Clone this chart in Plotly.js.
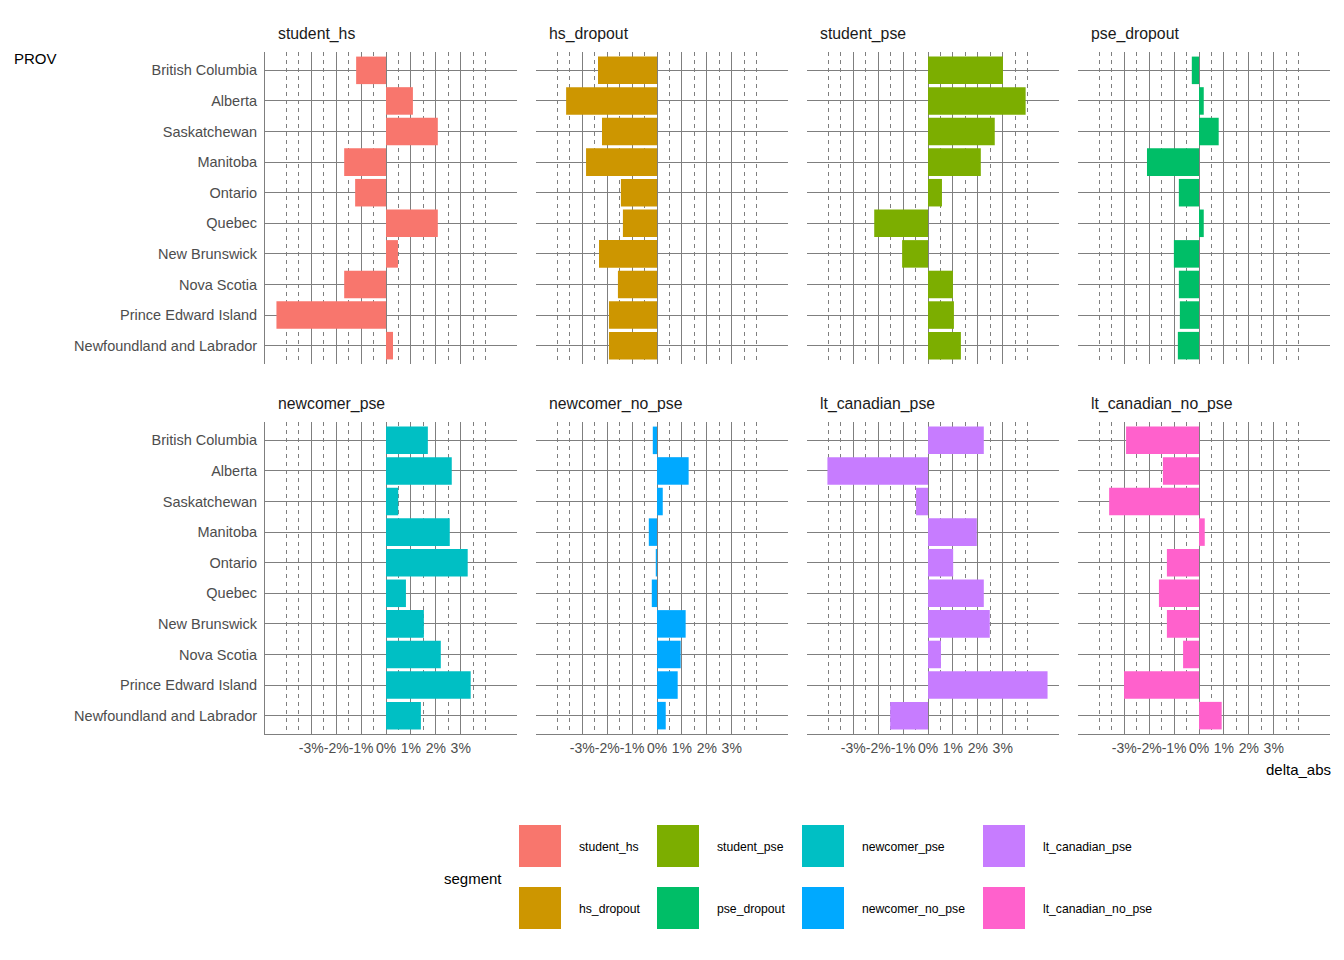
<!DOCTYPE html>
<html>
<head>
<meta charset="utf-8">
<script src="https://cdn.plot.ly/plotly-3.0.1.min.js"></script>
<style>html,body{margin:0;padding:0;background:#fff;}#chart{width:1344px;height:960px;}</style>
</head>
<body>
<div id="chart"></div>
<script>
// ---- data ----
const provinces = ["British Columbia","Alberta","Saskatchewan","Manitoba","Ontario","Quebec","New Brunswick","Nova Scotia","Prince Edward Island","Newfoundland and Labrador"];
const segments = ["student_hs","hs_dropout","student_pse","pse_dropout","newcomer_pse","newcomer_no_pse","lt_canadian_pse","lt_canadian_no_pse"];
const student_hs        = [-1.20, 1.08, 2.08,-1.68,-1.24, 2.08, 0.48,-1.68,-4.40, 0.28];
const hs_dropout        = [-2.37,-3.65,-2.21,-2.85,-1.45,-1.37,-2.33,-1.57,-1.93,-1.93];
const student_pse       = [ 3.01, 3.92, 2.68, 2.12, 0.56,-2.16,-1.04, 1.00, 1.04, 1.32];
const pse_dropout       = [-0.29, 0.19, 0.79,-2.09,-0.81, 0.19,-1.01,-0.81,-0.77,-0.85];
const newcomer_pse      = [ 1.68, 2.64, 0.49, 2.56, 3.28, 0.80, 1.52, 2.20, 3.40, 1.40];
const newcomer_no_pse   = [-0.17, 1.27, 0.23,-0.33,-0.05,-0.21, 1.15, 0.95, 0.83, 0.35];
const lt_canadian_pse   = [ 2.24,-4.04,-0.48, 1.96, 1.01, 2.24, 2.48, 0.52, 4.80,-1.52];
const lt_canadian_no_pse= [-2.93,-1.45,-3.61, 0.23,-1.29,-1.61,-1.29,-0.64,-3.01, 0.91];
const tickVals = [-3,-2,-1,0,1,2,3];
const tickText = ["-3%","-2%","-1%","0%","1%","2%","3%"];
const minorVals = [-4,-3.5,-2.5,-1.5,-0.5,0.5,1.5,2.5,3.5,4];
const colors = ["#F8766D","#CD9600","#7CAE00","#00BE67","#00BFC4","#00A9FF","#C77CFF","#FF61CC"];

const seriesValues = [student_hs,hs_dropout,student_pse,pse_dropout,newcomer_pse,newcomer_no_pse,lt_canadian_pse,lt_canadian_no_pse];

// ---- layout geometry (pixels) ----
const W = 1344, H = 960;
const colX = [[265,517],[536,788],[807,1059],[1078,1330]];
const rowY = [[52,364],[422,734]];
const GRID = "#7f7f7f";
const FONT = "Liberation Sans, Arial, sans-serif";

const data = [];
const layout = {
  width: W, height: H,
  margin: {l:0,r:0,t:0,b:0},
  paper_bgcolor: "#fff", plot_bgcolor: "#fff",
  showlegend: false,
  font: {family: FONT, color: "#000"},
  annotations: [], shapes: []
};

segments.forEach((seg, i) => {
  const r = Math.floor(i/4), c = i % 4;
  const n = i + 1;
  const xa = n === 1 ? "x" : "x" + n;
  const ya = n === 1 ? "y" : "y" + n;
  data.push({
    type: "bar", orientation: "h",
    x: seriesValues[i], y: provinces,
    xaxis: xa, yaxis: ya,
    width: 0.9,
    marker: {color: colors[i], line: {width: 0}},
    name: seg, hoverinfo: "x+y"
  });
  const xd = [colX[c][0]/W, colX[c][1]/W];
  const yd = [1 - rowY[r][1]/H, 1 - rowY[r][0]/H];
  layout["xaxis" + (n===1?"":n)] = {
    domain: xd, anchor: ya,
    range: [-4.86, 5.26],
    tickmode: "array", tickvals: tickVals, ticktext: tickText,
    showticklabels: r === 1,
    tickangle: 0,
    ticks: "", ticklabelstandoff: 1,
    tickfont: {size: 14, color: "#4d4d4d", family: FONT},
    showgrid: true, gridcolor: GRID, gridwidth: 1,
    zeroline: false,
    showline: r === 1, linecolor: GRID, linewidth: 1,
    minor: {tickmode: "array", tickvals: minorVals, showgrid: true, gridcolor: GRID, gridwidth: 1, griddash: "4px,4px", ticks: ""},
    fixedrange: true
  };
  layout["yaxis" + (n===1?"":n)] = {
    domain: yd, anchor: xa,
    type: "category",
    categoryorder: "array", categoryarray: provinces,
    range: [9.6, -0.6],
    showticklabels: c === 0,
    ticks: "", ticklabelstandoff: 4,
    tickfont: {size: 14.5, color: "#4d4d4d", family: FONT},
    showgrid: true, gridcolor: GRID, gridwidth: 1,
    zeroline: false,
    showline: c === 0, linecolor: GRID, linewidth: 1,
    fixedrange: true
  };
  // facet title
  layout.annotations.push({
    xref: "paper", yref: "paper",
    x: (colX[c][0] + 11)/W, y: 1 - (rowY[r][0] - 18)/H,
    xanchor: "left", yanchor: "middle",
    text: seg, showarrow: false,
    font: {size: 15.8, color: "#1a1a1a", family: FONT}
  });
});

// axis titles
layout.annotations.push({xref:"paper",yref:"paper",x:12/W,y:1-58/H,xanchor:"left",yanchor:"middle",text:"PROV",showarrow:false,font:{size:15,color:"#000",family:FONT}});
layout.annotations.push({xref:"paper",yref:"paper",x:1333/W,y:1-769/H,xanchor:"right",yanchor:"middle",text:"delta_abs",showarrow:false,font:{size:15,color:"#000",family:FONT}});

// legend (built from segments / colors)
layout.annotations.push({xref:"paper",yref:"paper",x:442/W,y:1-878/H,xanchor:"left",yanchor:"middle",text:"segment",showarrow:false,font:{size:15,color:"#000",family:FONT}});
const legKeyX = [519,657,802,983];
const legRowY = [825,887];
segments.forEach((seg, i) => {
  const c = Math.floor(i/2), r = i % 2;
  const x0 = legKeyX[c], y0 = legRowY[r];
  layout.shapes.push({type:"rect",xref:"paper",yref:"paper",
    x0:x0/W, x1:(x0+42)/W, y0:1-(y0+42)/H, y1:1-y0/H,
    fillcolor: colors[i], line:{width:0}});
  layout.annotations.push({xref:"paper",yref:"paper",x:(x0+58)/W,y:1-(y0+22)/H,
    xanchor:"left",yanchor:"middle",text:seg,showarrow:false,
    font:{size:12.2,color:"#000",family:FONT}});
});

Plotly.newPlot("chart", data, layout, {displayModeBar:false, staticPlot:true});
</script>
</body>
</html>
